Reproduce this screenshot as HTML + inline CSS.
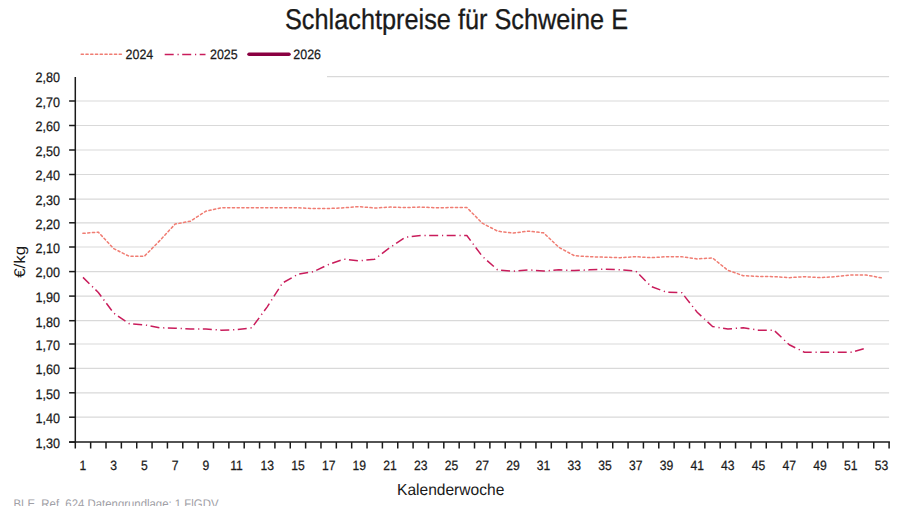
<!DOCTYPE html>
<html><head><meta charset="utf-8"><style>
html,body{margin:0;padding:0;background:#fff;width:900px;height:506px;overflow:hidden}
svg{display:block}
text{font-family:"Liberation Sans",sans-serif;fill:#1a1a1a;text-rendering:geometricPrecision}
.g{stroke:#d9d9d9;stroke-width:1.2}
.a{stroke:#1a1a1a;stroke-width:1.5}
.yl{font-size:13.75px;text-anchor:end;stroke:#1a1a1a;stroke-width:0.25}
.xl{font-size:13.5px;text-anchor:middle;stroke:#1a1a1a;stroke-width:0.25}
.s24{fill:none;stroke-linejoin:round;stroke-linecap:round;stroke:#f07c72;stroke-width:1.5;stroke-dasharray:2.2 2.55}
.s25{fill:none;stroke-linejoin:round;stroke:#c91c5b;stroke-width:1.5;stroke-dasharray:9 3.8 1.2 3.5}
.title{font-size:28.5px;stroke:#1a1a1a;stroke-width:0.3}
.leg{font-size:13.6px;stroke:#1a1a1a;stroke-width:0.25}
.axt{font-size:16px}
.foot{font-size:12.5px;fill:#a0a0a6}
</style></head><body>
<svg width="900" height="506" viewBox="0 0 900 506">
<text x="285" y="29.0" class="title" textLength="343" lengthAdjust="spacingAndGlyphs">Schlachtpreise für Schweine E</text>
<line x1="81.2" y1="54.3" x2="121.5" y2="54.3" class="s24"/>
<text transform="translate(125.6,58.5) scale(0.915,1)" class="leg">2024</text>
<line x1="164.7" y1="54.45" x2="205.5" y2="54.45" class="s25"/>
<text transform="translate(210,58.5) scale(0.915,1)" class="leg">2025</text>
<line x1="249" y1="54.3" x2="289" y2="54.3" stroke="#8a0041" stroke-width="3.5" stroke-linecap="round"/>
<text transform="translate(293.3,58.5) scale(0.915,1)" class="leg">2026</text>
<line x1="75.3" y1="417.20" x2="889.1" y2="417.20" class="g"/>
<line x1="75.3" y1="392.80" x2="889.1" y2="392.80" class="g"/>
<line x1="75.3" y1="368.30" x2="889.1" y2="368.30" class="g"/>
<line x1="75.3" y1="344.00" x2="889.1" y2="344.00" class="g"/>
<line x1="75.3" y1="320.70" x2="889.1" y2="320.70" class="g"/>
<line x1="75.3" y1="296.10" x2="889.1" y2="296.10" class="g"/>
<line x1="75.3" y1="271.60" x2="889.1" y2="271.60" class="g"/>
<line x1="75.3" y1="247.00" x2="889.1" y2="247.00" class="g"/>
<line x1="75.3" y1="222.80" x2="889.1" y2="222.80" class="g"/>
<line x1="75.3" y1="199.10" x2="889.1" y2="199.10" class="g"/>
<line x1="75.3" y1="174.50" x2="889.1" y2="174.50" class="g"/>
<line x1="75.3" y1="150.00" x2="889.1" y2="150.00" class="g"/>
<line x1="75.3" y1="125.50" x2="889.1" y2="125.50" class="g"/>
<line x1="75.3" y1="101.00" x2="889.1" y2="101.00" class="g"/>
<line x1="327.0" y1="76.60" x2="889.1" y2="76.60" class="g"/>
<line x1="69.1" y1="442.10" x2="75.3" y2="442.10" class="a"/>
<text transform="translate(59.9,447.90) scale(0.915,1)" class="yl">1,30</text>
<line x1="69.1" y1="417.20" x2="75.3" y2="417.20" class="a"/>
<text transform="translate(59.9,423.00) scale(0.915,1)" class="yl">1,40</text>
<line x1="69.1" y1="392.80" x2="75.3" y2="392.80" class="a"/>
<text transform="translate(59.9,398.60) scale(0.915,1)" class="yl">1,50</text>
<line x1="69.1" y1="368.30" x2="75.3" y2="368.30" class="a"/>
<text transform="translate(59.9,374.10) scale(0.915,1)" class="yl">1,60</text>
<line x1="69.1" y1="344.00" x2="75.3" y2="344.00" class="a"/>
<text transform="translate(59.9,349.80) scale(0.915,1)" class="yl">1,70</text>
<line x1="69.1" y1="320.70" x2="75.3" y2="320.70" class="a"/>
<text transform="translate(59.9,326.50) scale(0.915,1)" class="yl">1,80</text>
<line x1="69.1" y1="296.10" x2="75.3" y2="296.10" class="a"/>
<text transform="translate(59.9,301.90) scale(0.915,1)" class="yl">1,90</text>
<line x1="69.1" y1="271.60" x2="75.3" y2="271.60" class="a"/>
<text transform="translate(59.9,277.40) scale(0.915,1)" class="yl">2,00</text>
<line x1="69.1" y1="247.00" x2="75.3" y2="247.00" class="a"/>
<text transform="translate(59.9,252.80) scale(0.915,1)" class="yl">2,10</text>
<line x1="69.1" y1="222.80" x2="75.3" y2="222.80" class="a"/>
<text transform="translate(59.9,228.60) scale(0.915,1)" class="yl">2,20</text>
<line x1="69.1" y1="199.10" x2="75.3" y2="199.10" class="a"/>
<text transform="translate(59.9,204.90) scale(0.915,1)" class="yl">2,30</text>
<line x1="69.1" y1="174.50" x2="75.3" y2="174.50" class="a"/>
<text transform="translate(59.9,180.30) scale(0.915,1)" class="yl">2,40</text>
<line x1="69.1" y1="150.00" x2="75.3" y2="150.00" class="a"/>
<text transform="translate(59.9,155.80) scale(0.915,1)" class="yl">2,50</text>
<line x1="69.1" y1="125.50" x2="75.3" y2="125.50" class="a"/>
<text transform="translate(59.9,131.30) scale(0.915,1)" class="yl">2,60</text>
<line x1="69.1" y1="101.00" x2="75.3" y2="101.00" class="a"/>
<text transform="translate(59.9,106.80) scale(0.915,1)" class="yl">2,70</text>
<text transform="translate(59.9,82.40) scale(0.915,1)" class="yl">2,80</text>
<line x1="75.30" y1="442.1" x2="75.30" y2="448.5" class="a"/>
<line x1="90.65" y1="442.1" x2="90.65" y2="448.5" class="a"/>
<line x1="106.01" y1="442.1" x2="106.01" y2="448.5" class="a"/>
<line x1="121.36" y1="442.1" x2="121.36" y2="448.5" class="a"/>
<line x1="136.72" y1="442.1" x2="136.72" y2="448.5" class="a"/>
<line x1="152.07" y1="442.1" x2="152.07" y2="448.5" class="a"/>
<line x1="167.43" y1="442.1" x2="167.43" y2="448.5" class="a"/>
<line x1="182.78" y1="442.1" x2="182.78" y2="448.5" class="a"/>
<line x1="198.14" y1="442.1" x2="198.14" y2="448.5" class="a"/>
<line x1="213.49" y1="442.1" x2="213.49" y2="448.5" class="a"/>
<line x1="228.85" y1="442.1" x2="228.85" y2="448.5" class="a"/>
<line x1="244.20" y1="442.1" x2="244.20" y2="448.5" class="a"/>
<line x1="259.56" y1="442.1" x2="259.56" y2="448.5" class="a"/>
<line x1="274.91" y1="442.1" x2="274.91" y2="448.5" class="a"/>
<line x1="290.27" y1="442.1" x2="290.27" y2="448.5" class="a"/>
<line x1="305.62" y1="442.1" x2="305.62" y2="448.5" class="a"/>
<line x1="320.98" y1="442.1" x2="320.98" y2="448.5" class="a"/>
<line x1="336.33" y1="442.1" x2="336.33" y2="448.5" class="a"/>
<line x1="351.68" y1="442.1" x2="351.68" y2="448.5" class="a"/>
<line x1="367.04" y1="442.1" x2="367.04" y2="448.5" class="a"/>
<line x1="382.39" y1="442.1" x2="382.39" y2="448.5" class="a"/>
<line x1="397.75" y1="442.1" x2="397.75" y2="448.5" class="a"/>
<line x1="413.10" y1="442.1" x2="413.10" y2="448.5" class="a"/>
<line x1="428.46" y1="442.1" x2="428.46" y2="448.5" class="a"/>
<line x1="443.81" y1="442.1" x2="443.81" y2="448.5" class="a"/>
<line x1="459.17" y1="442.1" x2="459.17" y2="448.5" class="a"/>
<line x1="474.52" y1="442.1" x2="474.52" y2="448.5" class="a"/>
<line x1="489.88" y1="442.1" x2="489.88" y2="448.5" class="a"/>
<line x1="505.23" y1="442.1" x2="505.23" y2="448.5" class="a"/>
<line x1="520.59" y1="442.1" x2="520.59" y2="448.5" class="a"/>
<line x1="535.94" y1="442.1" x2="535.94" y2="448.5" class="a"/>
<line x1="551.30" y1="442.1" x2="551.30" y2="448.5" class="a"/>
<line x1="566.65" y1="442.1" x2="566.65" y2="448.5" class="a"/>
<line x1="582.01" y1="442.1" x2="582.01" y2="448.5" class="a"/>
<line x1="597.36" y1="442.1" x2="597.36" y2="448.5" class="a"/>
<line x1="612.72" y1="442.1" x2="612.72" y2="448.5" class="a"/>
<line x1="628.07" y1="442.1" x2="628.07" y2="448.5" class="a"/>
<line x1="643.42" y1="442.1" x2="643.42" y2="448.5" class="a"/>
<line x1="658.78" y1="442.1" x2="658.78" y2="448.5" class="a"/>
<line x1="674.13" y1="442.1" x2="674.13" y2="448.5" class="a"/>
<line x1="689.49" y1="442.1" x2="689.49" y2="448.5" class="a"/>
<line x1="704.84" y1="442.1" x2="704.84" y2="448.5" class="a"/>
<line x1="720.20" y1="442.1" x2="720.20" y2="448.5" class="a"/>
<line x1="735.55" y1="442.1" x2="735.55" y2="448.5" class="a"/>
<line x1="750.91" y1="442.1" x2="750.91" y2="448.5" class="a"/>
<line x1="766.26" y1="442.1" x2="766.26" y2="448.5" class="a"/>
<line x1="781.62" y1="442.1" x2="781.62" y2="448.5" class="a"/>
<line x1="796.97" y1="442.1" x2="796.97" y2="448.5" class="a"/>
<line x1="812.33" y1="442.1" x2="812.33" y2="448.5" class="a"/>
<line x1="827.68" y1="442.1" x2="827.68" y2="448.5" class="a"/>
<line x1="843.04" y1="442.1" x2="843.04" y2="448.5" class="a"/>
<line x1="858.39" y1="442.1" x2="858.39" y2="448.5" class="a"/>
<line x1="873.75" y1="442.1" x2="873.75" y2="448.5" class="a"/>
<line x1="889.10" y1="442.1" x2="889.10" y2="448.5" class="a"/>
<text transform="translate(82.98,469.6) scale(0.9,1)" class="xl">1</text>
<text transform="translate(113.69,469.6) scale(0.9,1)" class="xl">3</text>
<text transform="translate(144.40,469.6) scale(0.9,1)" class="xl">5</text>
<text transform="translate(175.11,469.6) scale(0.9,1)" class="xl">7</text>
<text transform="translate(205.82,469.6) scale(0.9,1)" class="xl">9</text>
<text transform="translate(236.52,469.6) scale(0.9,1)" class="xl">11</text>
<text transform="translate(267.23,469.6) scale(0.9,1)" class="xl">13</text>
<text transform="translate(297.94,469.6) scale(0.9,1)" class="xl">15</text>
<text transform="translate(328.65,469.6) scale(0.9,1)" class="xl">17</text>
<text transform="translate(359.36,469.6) scale(0.9,1)" class="xl">19</text>
<text transform="translate(390.07,469.6) scale(0.9,1)" class="xl">21</text>
<text transform="translate(420.78,469.6) scale(0.9,1)" class="xl">23</text>
<text transform="translate(451.49,469.6) scale(0.9,1)" class="xl">25</text>
<text transform="translate(482.20,469.6) scale(0.9,1)" class="xl">27</text>
<text transform="translate(512.91,469.6) scale(0.9,1)" class="xl">29</text>
<text transform="translate(543.62,469.6) scale(0.9,1)" class="xl">31</text>
<text transform="translate(574.33,469.6) scale(0.9,1)" class="xl">33</text>
<text transform="translate(605.04,469.6) scale(0.9,1)" class="xl">35</text>
<text transform="translate(635.75,469.6) scale(0.9,1)" class="xl">37</text>
<text transform="translate(666.46,469.6) scale(0.9,1)" class="xl">39</text>
<text transform="translate(697.17,469.6) scale(0.9,1)" class="xl">41</text>
<text transform="translate(727.88,469.6) scale(0.9,1)" class="xl">43</text>
<text transform="translate(758.58,469.6) scale(0.9,1)" class="xl">45</text>
<text transform="translate(789.29,469.6) scale(0.9,1)" class="xl">47</text>
<text transform="translate(820.00,469.6) scale(0.9,1)" class="xl">49</text>
<text transform="translate(850.71,469.6) scale(0.9,1)" class="xl">51</text>
<text transform="translate(881.42,469.6) scale(0.9,1)" class="xl">53</text>
<line x1="75.3" y1="77" x2="75.3" y2="442.9" class="a"/>
<line x1="69.1" y1="442.1" x2="889.9" y2="442.1" class="a"/>
<path d="M82.98,233.35 L98.33,232.13 L113.69,248.68 L129.04,256.22 L144.40,256.22 L159.75,240.65 L175.11,224.10 L190.46,221.18 L205.82,211.21 L221.17,207.80 L236.52,207.80 L251.88,207.80 L267.23,207.80 L282.59,207.80 L297.94,207.80 L313.30,208.53 L328.65,208.53 L344.01,207.80 L359.36,206.59 L374.72,208.05 L390.07,207.07 L405.43,207.56 L420.78,207.07 L436.14,207.80 L451.49,207.56 L466.85,207.56 L482.20,223.13 L497.55,231.16 L512.91,233.11 L528.26,231.16 L543.62,232.86 L558.97,247.46 L574.33,255.73 L589.68,256.71 L605.04,257.19 L620.39,257.68 L635.75,256.71 L651.10,257.68 L666.46,256.71 L681.81,256.71 L697.17,258.90 L712.52,257.92 L727.88,270.33 L743.23,275.68 L758.58,276.41 L773.94,276.66 L789.29,277.63 L804.65,276.66 L820.00,277.63 L835.36,276.66 L850.71,274.95 L866.07,274.95 L881.42,277.87" class="s24"/>
<path d="M82.98,277.39 L98.33,292.47 L113.69,313.15 L129.04,323.61 L144.40,324.83 L159.75,327.75 L175.11,328.24 L190.46,328.97 L205.82,328.97 L221.17,330.18 L236.52,329.70 L251.88,327.75 L267.23,306.83 L282.59,282.98 L297.94,274.22 L313.30,271.79 L328.65,264.49 L344.01,259.14 L359.36,260.84 L374.72,259.14 L390.07,247.46 L405.43,237.24 L420.78,235.54 L436.14,235.54 L451.49,235.54 L466.85,235.54 L482.20,256.22 L497.55,269.84 L512.91,271.30 L528.26,269.84 L543.62,271.06 L558.97,269.84 L574.33,270.57 L589.68,269.84 L605.04,269.11 L620.39,269.84 L635.75,271.06 L651.10,286.39 L666.46,292.23 L681.81,292.71 L697.17,312.18 L712.52,326.53 L727.88,328.97 L743.23,327.75 L758.58,330.18 L773.94,330.18 L789.29,344.78 L804.65,352.32 L820.00,352.32 L835.36,352.32 L850.71,352.32 L866.07,348.19" class="s25"/>
<text x="397" y="495.1" class="axt" textLength="107.3" lengthAdjust="spacingAndGlyphs">Kalenderwoche</text>
<text transform="translate(25,261.8) rotate(-90)" class="axt" text-anchor="middle" textLength="32" lengthAdjust="spacingAndGlyphs" style="font-size:15.5px">€/kg</text>
<text x="13.5" y="507.6" class="foot" textLength="205" lengthAdjust="spacingAndGlyphs">BLE, Ref. 624 Datengrundlage: 1.FlGDV</text>
</svg>
</body></html>
